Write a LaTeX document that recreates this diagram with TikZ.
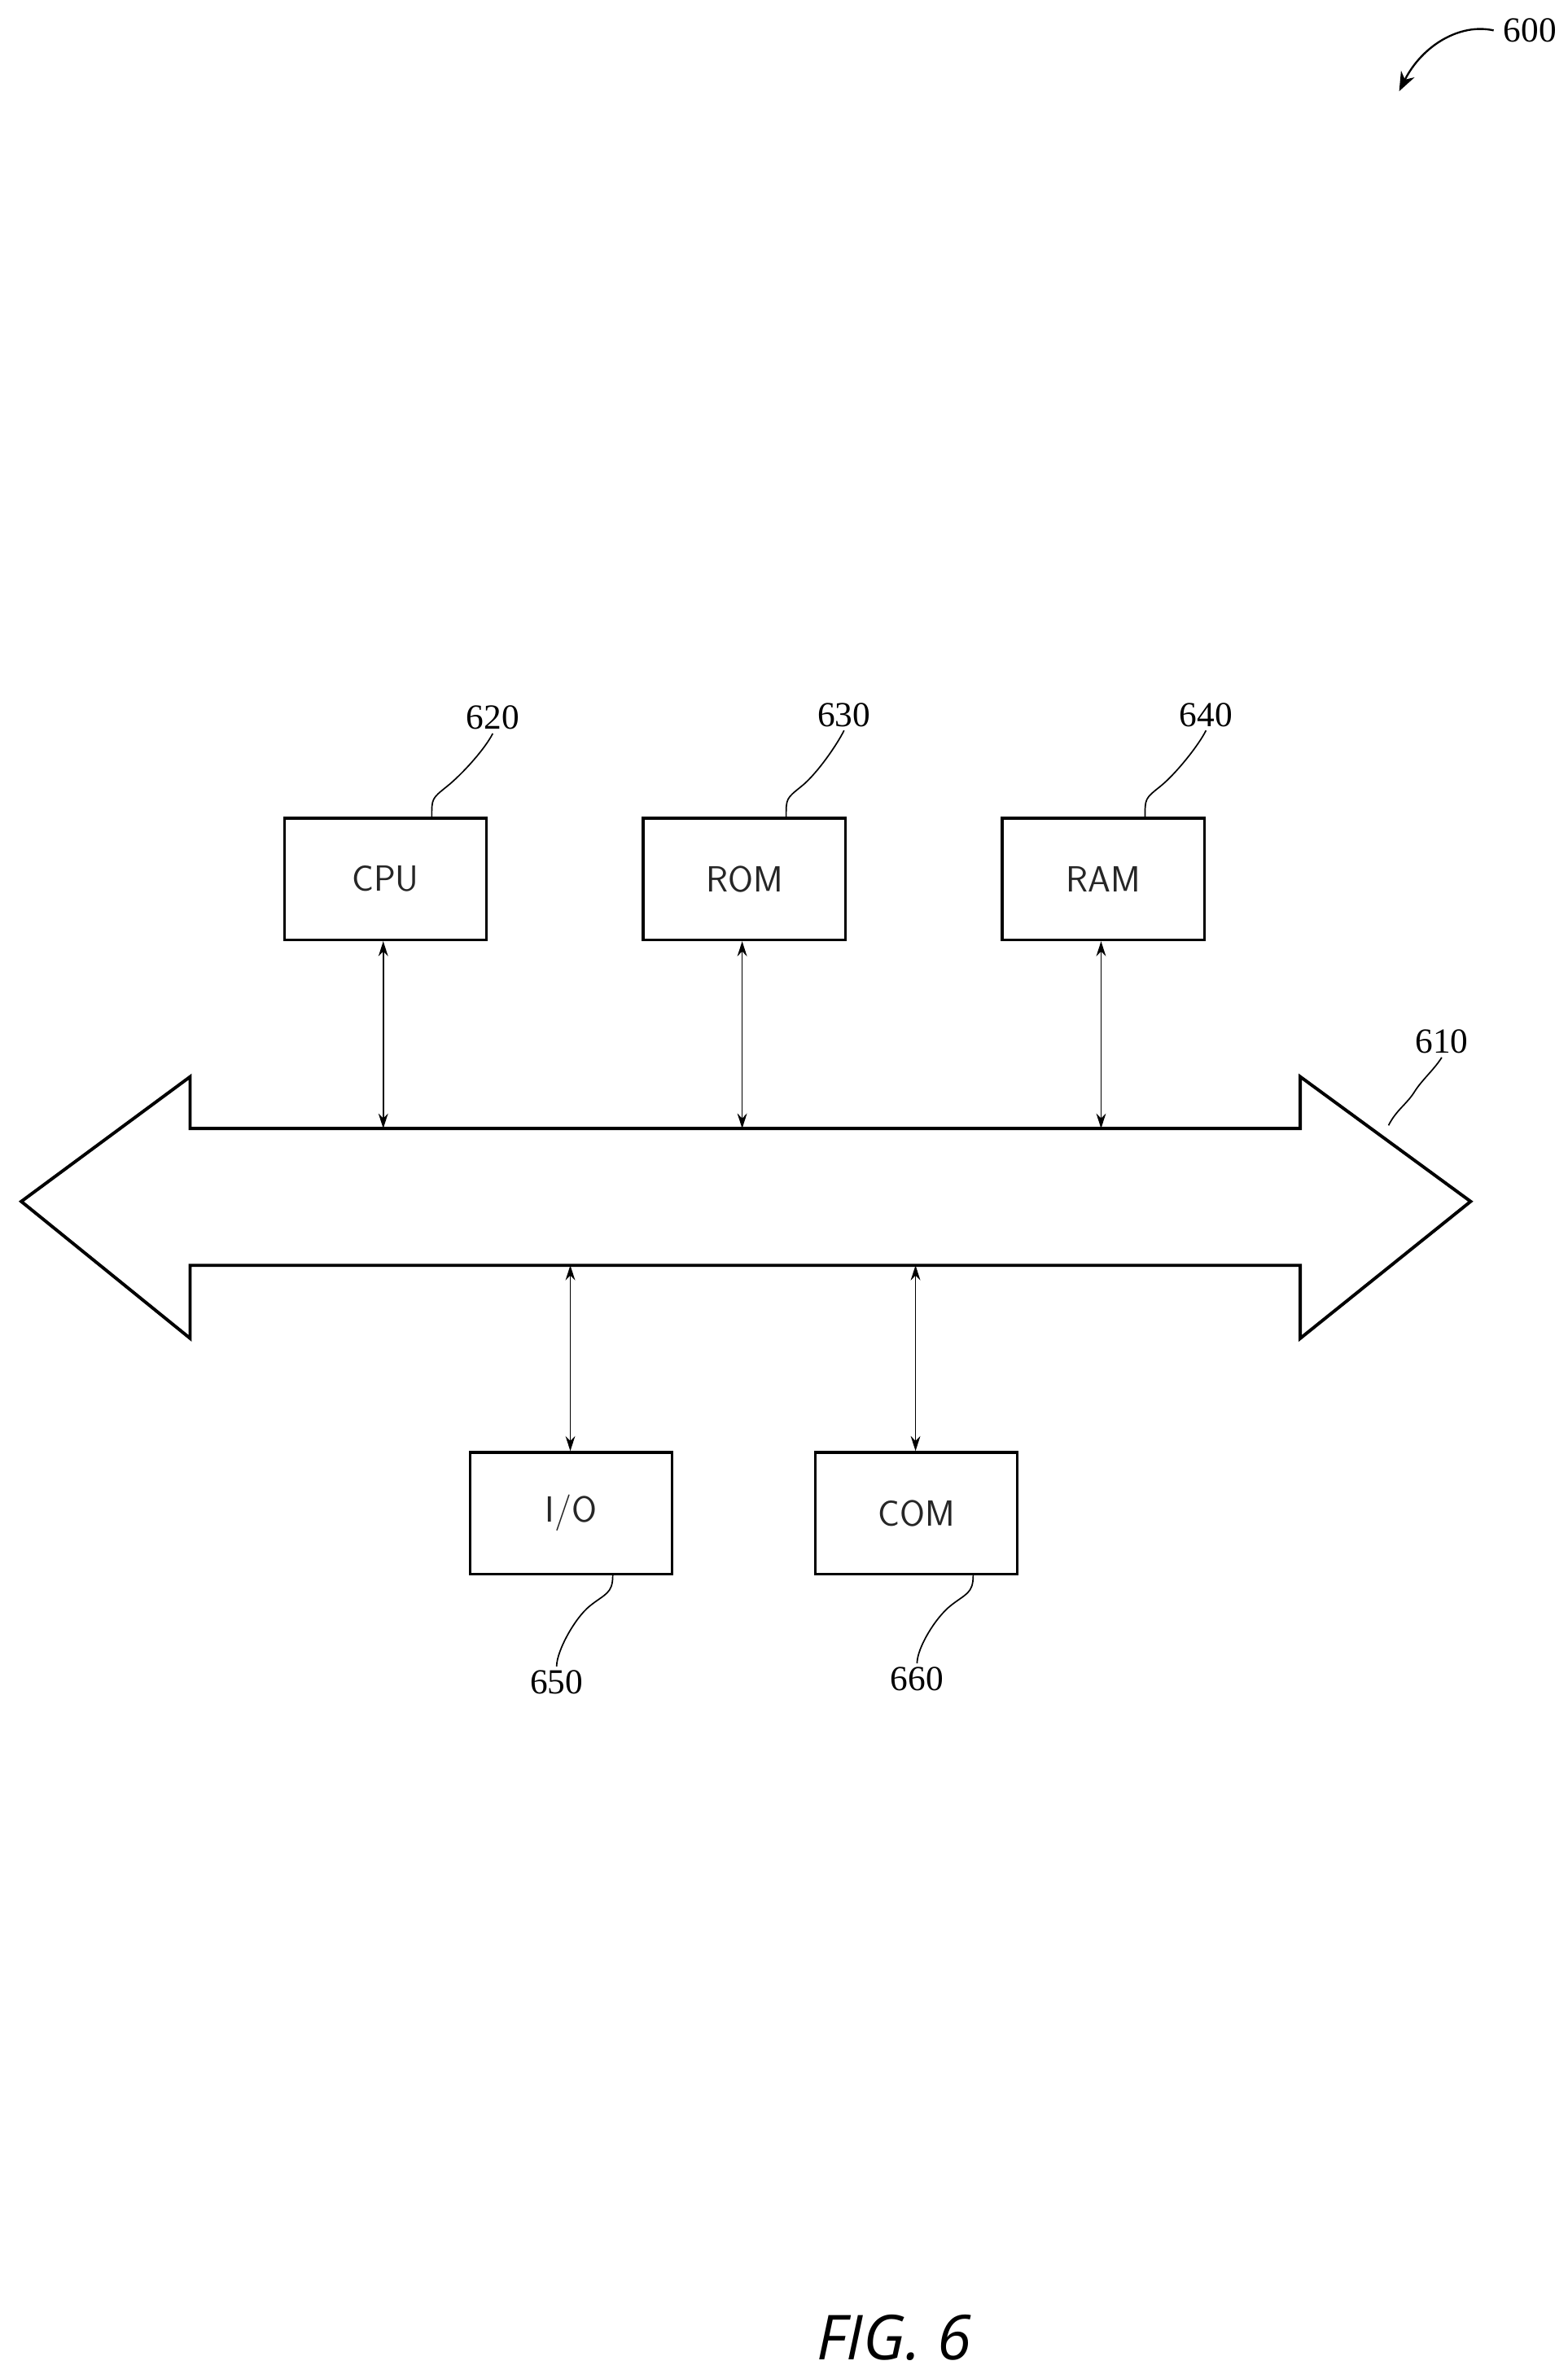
\documentclass[tikz,border=0pt]{standalone}
\usepackage{fontspec}
\usetikzlibrary{arrows.meta}
\setmainfont{Liberation Serif}
\newfontfamily\figfont{Open Sans}
\begin{document}
\begin{tikzpicture}[x=0.05cm,y=-0.05cm,
 box/.style={draw,line width=2.6pt,minimum width=6.65cm,minimum height=4cm,inner sep=0,font=\sffamily\fontsize{34}{34}\selectfont,text=black!85},
 ref/.style={font=\fontsize{33}{33}\selectfont},
 lead/.style={line width=1.3pt},
 conn/.style={line width=1.3pt,<->,>={Stealth[length=14pt,width=9pt]}}]
\useasboundingbox (0,0) rectangle (1031,1561);
\node[box] (cpu) at (253.5,578) {CPU};
\node[box] (rom) at (489.5,578) {ROM};
\node[box] (ram) at (725.5,578) {RAM};
\node[box] (io) at (375.5,995) {I/O};
\node[box] (com) at (602.5,995) {COM};
% bus
\draw[line width=3pt,line join=miter] (14,790) -- (125,708) -- (125,742) -- (855,742) -- (855,708) -- (967,790) -- (855,880) -- (855,832) -- (125,832) -- (125,880) -- cycle;
\coordinate (b1) at (252,742); \coordinate (b2) at (488,742); \coordinate (b3) at (724,742);
\coordinate (b4) at (375,832); \coordinate (b5) at (602,832);
\draw[conn] (cpu.south -| b1) -- (b1);
\draw[conn] (rom.south -| b2) -- (b2);
\draw[conn] (ram.south -| b3) -- (b3);
\draw[conn] (io.north -| b4) -- (b4);
\draw[conn] (com.north -| b5) -- (b5);
% labels
\node[ref] (l620) at (324,472) {620};
\node[ref] (l630) at (555,470) {630};
\node[ref] (l640) at (793,470) {640};
\node[ref] (l610) at (948,685) {610};
\node[ref] (l650) at (366,1106) {650};
\node[ref] (l660) at (603,1104) {660};
\node[ref] (l600) at (1006,20) {600};
\draw[lead] (cpu.north east)++(-37,0) .. controls +(0,-12) and +(-10,8) .. ++(10,-20) .. controls +(10,-8) and +(-5,10) .. (l620.south);
\draw[lead] (rom.north east)++(-40,0) .. controls +(0,-12) and +(-10,8) .. ++(10,-20) .. controls +(10,-8) and +(-5,10) .. (l630.south);
\draw[lead] (ram.north east)++(-40,0) .. controls +(0,-12) and +(-10,8) .. ++(10,-20) .. controls +(10,-8) and +(-5,10) .. (l640.south);
\coordinate (c610) at (913,740);
\draw[lead] (c610) .. controls +(5,-10) and +(-5,8) .. (930,718) .. controls +(5,-8) and +(-5,8) .. (l610.south);
\draw[lead] (io.south east)++(-40,0) .. controls +(0,12) and +(10,-8) .. ++(-15,20) .. controls +(-10,8) and +(0,-10) .. (l650.north);
\draw[lead] (com.south east)++(-30,0) .. controls +(0,12) and +(10,-8) .. ++(-15,20) .. controls +(-10,8) and +(0,-10) .. (l660.north);
\coordinate (a600) at (920,60);
\draw[line width=1.8pt,-{Stealth[length=18pt,width=14pt]}] (l600.west)++(-4,0) .. controls (960,15) and (935,30) .. (a600);
\node[font=\figfont\itshape\fontsize{58}{58}\selectfont] (fig) at (588,1537) {FIG. 6};
\end{tikzpicture}
\end{document}
